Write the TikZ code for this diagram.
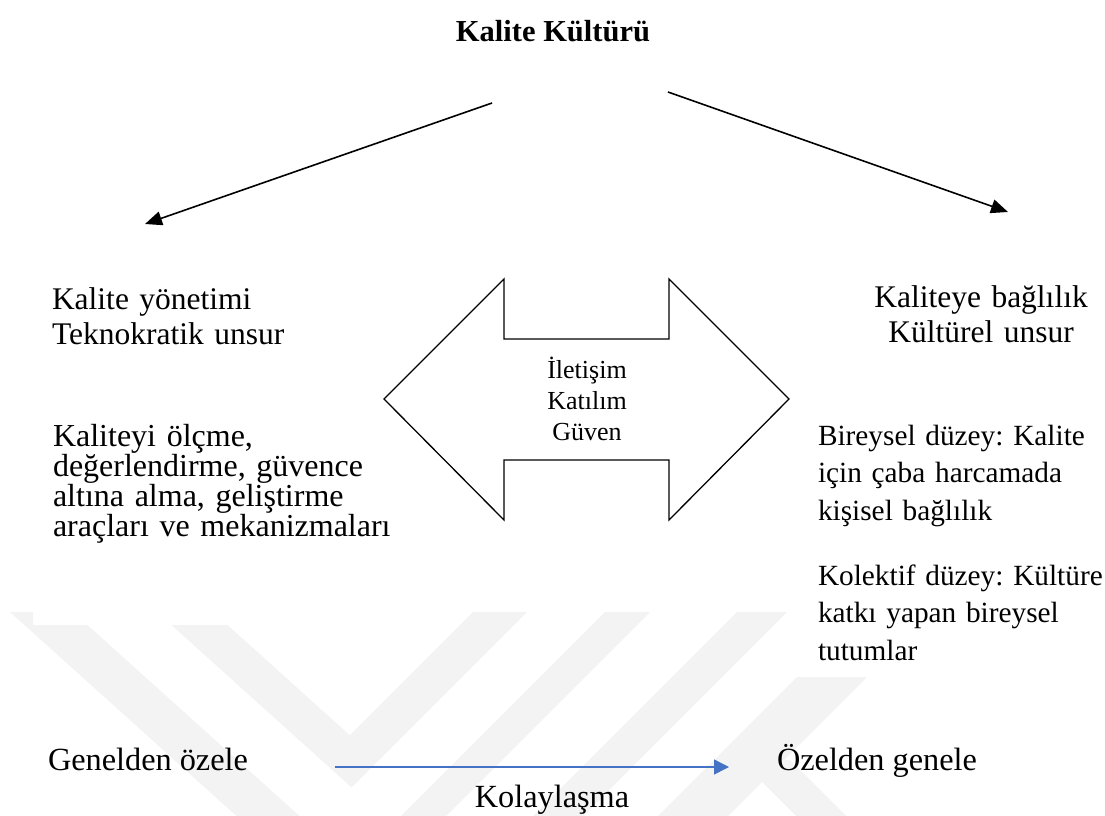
\documentclass[tikz,border=0pt]{standalone}
\usepackage{fontspec}
\setmainfont{Liberation Serif}
\usetikzlibrary{arrows.meta}
\definecolor{flowblue}{HTML}{4472C4}
\definecolor{markgray}{HTML}{F3F3F3}
\frenchspacing

\begin{document}
\begin{tikzpicture}[x=1pt,y=-1pt,
  body/.style={inner sep=0pt, outer sep=0pt, font=\fontsize{31.5}{35}\selectfont},
  headl/.style={body, anchor=base west, text width=360pt, align=left},
  headc/.style={body, anchor=base, text width=320pt, align=center},
  listl/.style={body, anchor=base west, text width=380pt, align=left,
                font=\fontsize{32}{30}\selectfont},
  listr/.style={body, anchor=base west, text width=340pt, align=left,
                font=\fontsize{29.3}{37.7}\selectfont},
  bottom/.style={body, font=\fontsize{32.3}{36}\selectfont},
  hubtext/.style={inner sep=0pt, anchor=base, text width=150pt, align=center,
                  font=\fontsize{26}{31}\selectfont},
  blk/.style={line width=1.6pt, -{Triangle[length=17pt,width=14pt]}},
  flow/.style={line width=1.5pt, draw=flowblue,
               -{Triangle[length=15pt,width=15pt,fill=flowblue]}},
  hub/.style={line width=1.3pt, line join=miter},
]
\useasboundingbox (0,0) rectangle (1105,816);

% faint striped emblem in the lower part of the page
\begin{scope}
  \clip (0,612) -- (33,612) -- (33,625) -- (400,625) -- (400,612) -- (795,612)
        -- (795,677) -- (1105,677) -- (1105,816) -- (0,816) -- cycle;
  \fill[markgray] (10,612) -- (73,612) -- (352.9,864.1) -- (605,612) -- (650,612)
        -- (346.7,915.3) -- cycle;
  \fill[markgray] (157,612) -- (213,612) -- (349.8,735.2) -- (473,612) -- (527,612)
        -- (351.6,787.4) -- cycle;
  \fill[markgray] (737,612) -- (787,612) -- (583,816) -- (533,816) -- cycle;
  \fill[markgray] (862,612) -- (932,612) -- (728,816) -- (658,816) -- cycle;
  \fill[markgray] (740,760) -- (790,760) -- (846,816) -- (796,816) -- cycle;
\end{scope}

% title
\node[body, anchor=base, font=\fontsize{30.5}{35}\selectfont\bfseries] (title) at (553,42) {Kalite Kültürü};

% two branches from the title
\coordinate (lstart) at (492,103);
\coordinate (lend) at (145,224);
\coordinate (rstart) at (668,92);
\coordinate (rend) at (1008,212);
\draw[blk] (lstart) -- (lend);
\draw[blk] (rstart) -- (rend);

% left column
\node[headl] (mgmt) at (52,309) {Kalite yönetimi\\Teknokratik unsur};
\node[listl] (tools) at (53,446) {Kaliteyi ölçme,\\değerlendirme, güvence\\altına alma, geliştirme\\araçları ve mekanizmaları};

% right column
\node[headc] (commit) at (981,307) {Kaliteye bağlılık\\Kültürel unsur};
\node[listr] (indiv) at (818,445) {Bireysel düzey: Kalite\\için çaba harcamada\\kişisel bağlılık};
\node[listr] (coll) at (818,585) {Kolektif düzey: Kültüre\\katkı yapan bireysel\\tutumlar};

% double-headed arrow in the middle
\node[hubtext] (hubtxt) at (587,378) {İletişim\\Katılım\\Güven};
\draw[hub] (384,399) -- (504,279) -- (504,339) -- (669,339) -- (669,279)
  -- (789,399) -- (669,520) -- (669,460) -- (504,460) -- (504,520) -- cycle;

% bottom row
\node[bottom, anchor=base west] (gen) at (48,770) {Genelden özele};
\node[bottom, anchor=base west] (spec) at (777,770) {Özelden genele};
\coordinate (fstart) at (335,767);
\coordinate (fend) at (729,767);
\draw[flow] (fstart) -- (fend);
\node[bottom, anchor=base] (ease) at (552,807) {Kolaylaşma};
\end{tikzpicture}
\end{document}
